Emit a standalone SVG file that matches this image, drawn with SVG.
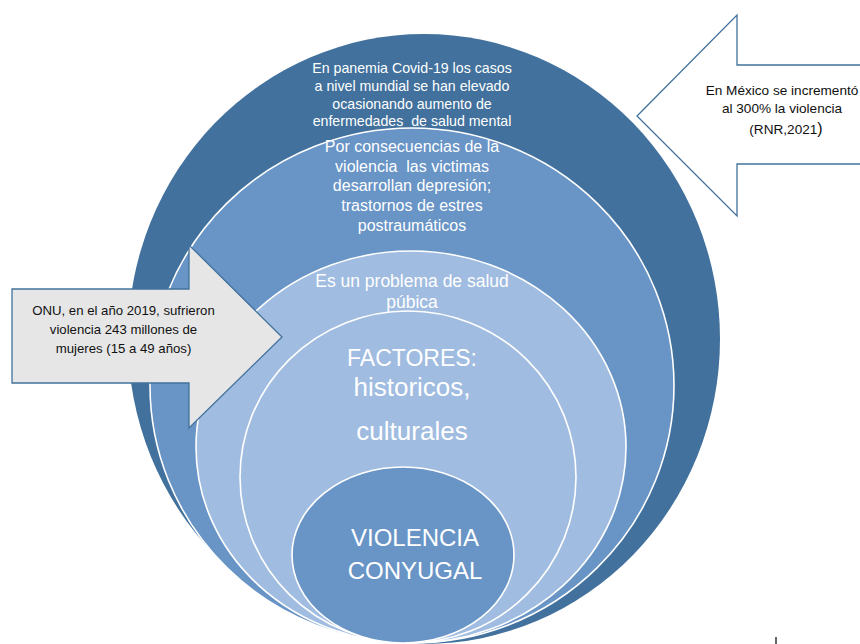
<svg xmlns="http://www.w3.org/2000/svg" width="860" height="644" viewBox="0 0 860 644">
<style>
.ring{stroke:#ffffff;stroke-width:1.6}
.dark{fill:#41719C}
.mid{fill:#6894C6}
.light{fill:#A0BCE0}
.wt{fill:#ffffff;font-family:"Liberation Sans",Arial,sans-serif;text-anchor:middle;white-space:pre}
.bt{fill:#111111;font-family:"Liberation Sans",Arial,sans-serif;text-anchor:middle;white-space:pre}
.arrow{stroke:#41719C;stroke-width:1.3;stroke-linejoin:miter}
</style>
<rect width="860" height="644" fill="#ffffff"/>
<g id="circle-covid">
<ellipse class="dark" cx="424" cy="339" rx="296" ry="305"/>
</g>
<g id="circle-consecuencias">
<ellipse class="mid ring" cx="412" cy="385.5" rx="262" ry="257.5"/>
</g>
<g id="circle-salud-publica">
<ellipse class="light ring" cx="411" cy="447" rx="215" ry="196"/>
</g>
<g id="circle-factores">
<ellipse class="light ring" cx="408" cy="477" rx="168" ry="166"/>
</g>
<g id="circle-violencia">
<ellipse class="mid ring" cx="403" cy="555" rx="111" ry="88"/>
</g>
<g id="text-covid" class="wt" font-size="14.2">
<text x="412" y="73">En panemia Covid-19 los casos</text>
<text x="412" y="91">a nivel mundial se han elevado</text>
<text x="412" y="108.5">ocasionando aumento de</text>
<text x="412" y="126" xml:space="preserve">enfermedades  de salud mental</text>
</g>
<g id="text-consecuencias" class="wt" font-size="16">
<text x="412" y="152">Por consecuencias de la</text>
<text x="412" y="171.5" xml:space="preserve">violencia  las victimas</text>
<text x="412" y="191">desarrollan depresión;</text>
<text x="412" y="211">trastornos de estres</text>
<text x="412" y="231">postraumáticos</text>
</g>
<g id="text-salud-publica" class="wt" font-size="17.5">
<text x="412" y="287">Es un problema de salud</text>
<text x="412" y="307.5">púbica</text>
</g>
<g id="text-factores" class="wt">
<text x="412" y="366" font-size="23">FACTORES:</text>
<text x="412" y="396" font-size="26">historicos,</text>
<text x="412" y="440" font-size="26">culturales</text>
</g>
<g id="text-violencia" class="wt" font-size="24">
<text x="415" y="546">VIOLENCIA</text>
<text x="415" y="579">CONYUGAL</text>
</g>
<g id="arrow-mexico">
<polygon class="arrow" fill="#ffffff" points="862,65 737,65 737,15 637,116 737,216 737,164 862,164"/>
<g class="bt" font-size="13.6">
<text x="782" y="95">En México se incrementó</text>
<text x="782" y="113">al 300% la violencia</text>
<text x="786" y="134">(RNR,2021<tspan font-size="16">)</tspan></text>
</g>
</g>
<g id="arrow-onu">
<polygon class="arrow" fill="#E6E6E6" points="12,289 189,289 189,245 282,337 189,428 189,383 12,383"/>
<g class="bt" font-size="13.2">
<text x="123.5" y="315">ONU, en el año 2019, sufrieron</text>
<text x="123.5" y="334">violencia 243 millones de</text>
<text x="123.5" y="353">mujeres (15 a 49 años)</text>
</g>
</g>
<g id="connectors"></g>
<line x1="776" y1="637" x2="776" y2="644" stroke="#333333" stroke-width="1.5"/>
</svg>
